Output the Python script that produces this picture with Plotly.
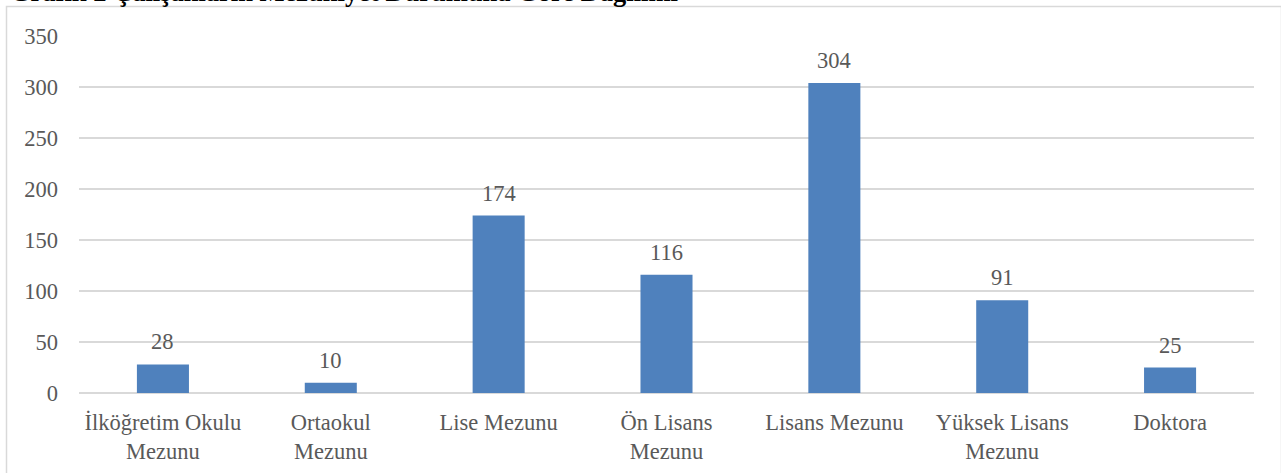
import plotly.graph_objects as go

categories = ["İlköğretim Okulu<br>Mezunu", "Ortaokul<br>Mezunu", "Lise Mezunu",
              "Ön Lisans<br>Mezunu", "Lisans Mezunu", "Yüksek Lisans<br>Mezunu", "Doktora"]
values = [28, 10, 174, 116, 304, 91, 25]
y_ticks = [0, 50, 100, 150, 200, 250, 300, 350]
title_text = "Grafik 2 Çalışanların Mezuniyet Durumuna Göre Dağılımı"

W, H = 1281, 473
ML, MR, MT, MB = 79, 27, 36, 80
PH = H - MT - MB
PW = W - ML - MR

def py(pix):
    return 1 + (MT - pix) / PH

def px(pix):
    return (pix - ML) / PW

FONT = "Liberation Serif, Times New Roman, serif"
GRAY = "#595959"
FS = 22.5

fig = go.Figure()
fig.add_trace(go.Bar(x=categories, y=values, marker_color="#4F81BD",
                     marker_line_width=0, width=0.31, hoverinfo="x+y"))

for c, v in zip(categories, values):
    fig.add_annotation(x=c, y=v, text=str(v), showarrow=False, yanchor="bottom",
                       yshift=8, font=dict(family=FONT, size=FS, color=GRAY))

fig.add_annotation(xref="paper", yref="paper", x=px(8), y=py(9), xanchor="left",
                   yanchor="bottom", text="<b>" + title_text + "</b>", showarrow=False,
                   font=dict(family=FONT, size=26.5, color="#000000"))

fig.add_shape(type="rect", xref="paper", yref="paper", x0=px(6.5), x1=px(1281.5),
              y0=py(480), y1=py(6.5), line=dict(color="#D9D9D9", width=1.5),
              fillcolor="rgba(0,0,0,0)", layer="below")

fig.update_layout(
    width=W, height=H,
    margin=dict(l=ML, r=MR, t=MT, b=MB, pad=0, autoexpand=False),
    paper_bgcolor="white", plot_bgcolor="white",
    showlegend=False,
    font=dict(family=FONT, size=FS, color=GRAY),
    xaxis=dict(showgrid=False, showline=False, ticks="", tickfont=dict(size=FS, color=GRAY),
               ticklabelstandoff=13, automargin=False),
    yaxis=dict(range=[0, 350], tickvals=y_ticks, showgrid=True, gridcolor="#D9D9D9",
               gridwidth=1.5, zeroline=True, zerolinecolor="#D9D9D9", zerolinewidth=1.5,
               showline=False, ticks="", ticklabelstandoff=20, automargin=False,
               tickfont=dict(size=FS, color=GRAY)),
)

fig.write_html("out.html", config={"displayModeBar": False},
               post_script="document.body.style.margin='0';document.body.style.overflow='hidden';")
